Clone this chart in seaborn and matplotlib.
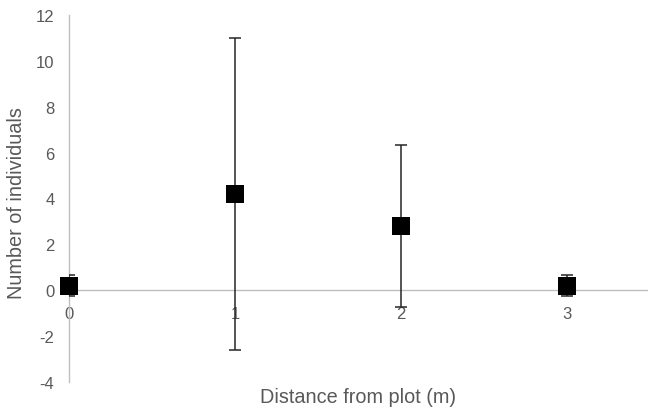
import matplotlib
matplotlib.use("Agg")
import matplotlib.pyplot as plt
import seaborn as sns
import pandas as pd

distance = [0, 1, 2, 3]
individuals = [0.2, 4.2, 2.8, 0.2]
error = [0.45, 6.8, 3.55, 0.45]
y_ticks = [-4, -2, 0, 2, 4, 6, 8, 10, 12]

sns.set_theme(style="white")
plt.rcParams['font.family'] = ['Liberation Sans', 'DejaVu Sans']

df = pd.DataFrame({"Distance": distance, "Individuals": individuals, "Error": error})

fig = plt.figure(figsize=(6.48, 4.14), dpi=100)
ax = fig.add_axes([69/648, 1 - 383/414, 581/648, (383 - 16)/414])

ax.errorbar(df["Distance"], df["Individuals"], yerr=df["Error"], fmt="none",
            ecolor="#262626", elinewidth=1.1, capsize=4, capthick=1.1, zorder=2)
sns.scatterplot(data=df, x="Distance", y="Individuals", marker="s", s=150,
                color="black", edgecolor="black", linewidth=0, ax=ax, zorder=3, clip_on=False)

ax.set_xlim(0, 3.5)
ax.set_ylim(-4, 12)
ax.set_yticks(y_ticks)
ax.set_yticklabels([str(v) for v in y_ticks])
ax.set_xticks(distance)
ax.set_xticklabels([str(v) for v in distance])

for s in ["top", "right"]:
    ax.spines[s].set_visible(False)
ax.spines["bottom"].set_position(("data", 0))
ax.spines["bottom"].set_color("#bfbfbf")
ax.spines["left"].set_color("#bfbfbf")
ax.spines["bottom"].set_linewidth(1.0)
ax.spines["left"].set_linewidth(1.0)
ax.spines["bottom"].set_zorder(1)
ax.spines["left"].set_zorder(1)

ax.tick_params(axis="both", length=0, labelsize=12, colors="#595959")
ax.tick_params(axis="x", pad=11)
ax.tick_params(axis="y", pad=10.5)

ax.set_xlabel("")
ax.set_ylabel("Number of individuals", fontsize=14.3, color="#595959")
ax.yaxis.set_label_coords((26 - 69) / 581, (383 - 203.5) / 367)
fig.text(358/648, 1 - 398/414, "Distance from plot (m)", ha="center", va="center",
         fontsize=14.3, color="#595959")

fig.savefig("out.png", dpi=100)
